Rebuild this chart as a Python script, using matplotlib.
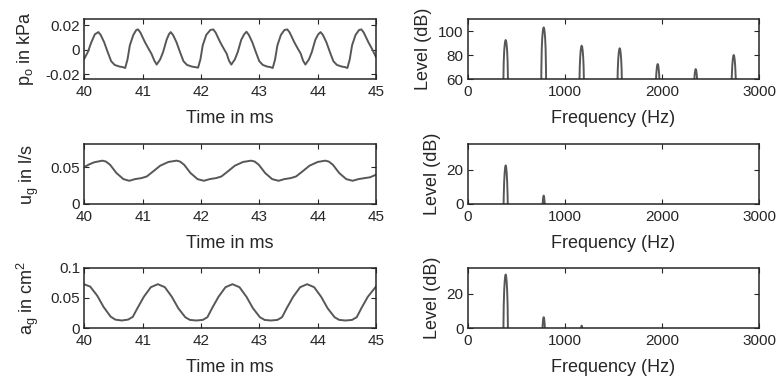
import numpy as np
import matplotlib
matplotlib.use('Agg')
import matplotlib.pyplot as plt

plt.rcParams['font.family'] = ['Liberation Sans', 'DejaVu Sans']
plt.rcParams['mathtext.fontset'] = 'custom'
plt.rcParams['mathtext.rm'] = 'Liberation Sans'
plt.rcParams['mathtext.it'] = 'Liberation Sans:italic'

# --- time signals (ms) ---
po_t = [40.00, 40.06, 40.12, 40.18, 40.24, 40.28, 40.34, 40.40, 40.46, 40.52, 40.60, 40.66, 40.70,
        40.74, 40.78, 40.84, 40.89, 40.92, 40.96, 41.04, 41.10, 41.15, 41.20, 41.24, 41.30, 41.35,
        41.41, 41.45, 41.48, 41.52, 41.58, 41.64, 41.70, 41.76, 41.84, 41.90, 41.95, 41.99, 42.03,
        42.09, 42.16, 42.21, 42.25, 42.33, 42.39, 42.44, 42.48, 42.52, 42.58, 42.63, 42.69, 42.74,
        42.78, 42.82, 42.88, 42.94, 43.00, 43.06, 43.13, 43.19, 43.23, 43.27, 43.31, 43.37, 43.43,
        43.48, 43.52, 43.60, 43.66, 43.71, 43.75, 43.79, 43.85, 43.90, 43.96, 44.01, 44.05, 44.09,
        44.15, 44.21, 44.27, 44.33, 44.41, 44.47, 44.51, 44.55, 44.59, 44.65, 44.71, 44.75, 44.79,
        44.87, 44.93, 45.00]
po_kpa = [-0.0073, -0.0020, 0.0060, 0.0125, 0.0143, 0.0120, 0.0060, -0.0020, -0.0095, -0.0125,
          -0.0138, -0.0143, -0.0150, -0.0080, 0.0035, 0.0120, 0.0160, 0.0165, 0.0140, 0.0060,
          0.0008, -0.0033, -0.0090, -0.0122, -0.0080, -0.0020, 0.0080, 0.0125, 0.0143, 0.0120,
          0.0060, -0.0020, -0.0095, -0.0125, -0.0138, -0.0143, -0.0147, -0.0080, 0.0035, 0.0120,
          0.0160, 0.0165, 0.0140, 0.0060, 0.0008, -0.0033, -0.0090, -0.0122, -0.0080, -0.0020,
          0.0080, 0.0125, 0.0146, 0.0120, 0.0060, -0.0020, -0.0095, -0.0125, -0.0138, -0.0143,
          -0.0150, -0.0080, 0.0035, 0.0120, 0.0160, 0.0165, 0.0140, 0.0060, 0.0008, -0.0033,
          -0.0090, -0.0122, -0.0080, -0.0020, 0.0080, 0.0125, 0.0143, 0.0120, 0.0060, -0.0020,
          -0.0095, -0.0125, -0.0138, -0.0143, -0.0150, -0.0080, 0.0035, 0.0120, 0.0160, 0.0165,
          0.0140, 0.0060, 0.0008, -0.0060]

ug_t = [40.00, 40.08, 40.17, 40.31, 40.37, 40.44, 40.55, 40.67, 40.77, 40.87, 40.98, 41.07, 41.18,
        41.30, 41.44, 41.58, 41.64, 41.71, 41.82, 41.94, 42.05, 42.15, 42.26, 42.35, 42.46, 42.58,
        42.72, 42.86, 42.92, 42.99, 43.10, 43.22, 43.33, 43.43, 43.54, 43.63, 43.74, 43.86, 44.00,
        44.13, 44.19, 44.26, 44.37, 44.49, 44.60, 44.70, 44.81, 44.90, 45.00]
ug_ls = [0.0505, 0.0540, 0.0570, 0.0592, 0.0580, 0.0537, 0.0423, 0.0340, 0.0317, 0.0340, 0.0354,
         0.0376, 0.0445, 0.0523, 0.0574, 0.0592, 0.0580, 0.0537, 0.0423, 0.0340, 0.0317, 0.0340,
         0.0354, 0.0376, 0.0445, 0.0523, 0.0574, 0.0592, 0.0580, 0.0537, 0.0423, 0.0340, 0.0317,
         0.0340, 0.0354, 0.0376, 0.0445, 0.0523, 0.0574, 0.0592, 0.0580, 0.0537, 0.0423, 0.0340,
         0.0317, 0.0340, 0.0354, 0.0365, 0.0400]

ag_t = [40.00, 40.10, 40.22, 40.33, 40.45, 40.53, 40.64, 40.75, 40.83, 40.91, 41.02, 41.14, 41.26,
        41.38, 41.50, 41.61, 41.73, 41.81, 41.92, 42.03, 42.11, 42.19, 42.30, 42.42, 42.54, 42.66,
        42.78, 42.89, 43.01, 43.09, 43.20, 43.31, 43.39, 43.47, 43.58, 43.70, 43.82, 43.94, 44.06,
        44.17, 44.29, 44.37, 44.48, 44.59, 44.67, 44.75, 44.86, 45.00]
ag_cm2 = [0.0727, 0.0690, 0.0540, 0.0350, 0.0190, 0.0140, 0.0125, 0.0140, 0.0185, 0.0330, 0.0520,
          0.0680, 0.0730, 0.0680, 0.0520, 0.0330, 0.0180, 0.0135, 0.0125, 0.0135, 0.0180, 0.0330,
          0.0520, 0.0680, 0.0730, 0.0680, 0.0520, 0.0330, 0.0180, 0.0135, 0.0125, 0.0135, 0.0180,
          0.0330, 0.0520, 0.0680, 0.0730, 0.0680, 0.0520, 0.0330, 0.0180, 0.0135, 0.0125, 0.0135,
          0.0180, 0.0330, 0.0520, 0.0690]

# --- spectra: harmonic peaks (Hz, dB) ---
po_peak_hz = [391, 782, 1173, 1564, 1955, 2346, 2737]
po_peak_db = [92.5, 103.0, 87.8, 85.6, 72.5, 68.3, 80.0]
ug_peak_hz = [391, 782]
ug_peak_db = [22.5, 4.9]
ag_peak_hz = [391, 782, 1173]
ag_peak_db = [31.2, 6.3, 1.4]

# shape of one spectral lobe around its peak
lobe_off_hz = [-26, -24, -20, -15, -10, -5, 0, 5, 10, 15, 20, 24, 26]
lobe_drop_db = [-60, -35, -18, -9, -4, -1, 0, -1, -4, -9, -18, -35, -60]

LINE = '#575757'
INK = '#262626'
TICK_FS = 11
LABEL_FS = 13


def spectrum_line(peak_hz, peak_db):
    f, lvl = [0.0], [-100.0]
    for pf, pl in zip(peak_hz, peak_db):
        f += [pf + o for o in lobe_off_hz]
        lvl += [pl + d for d in lobe_drop_db]
    f.append(3000.0)
    lvl.append(-100.0)
    return np.array(f), np.array(lvl)


def style_axes(ax):
    ax.tick_params(direction='in', top=True, right=True, length=3.5, width=0.8,
                   labelsize=TICK_FS, colors=INK)
    ax.tick_params(axis='x', pad=4.5)
    ax.tick_params(axis='y', pad=3)
    for s in ax.spines.values():
        s.set_linewidth(1.1)
        s.set_color(INK)


fig = plt.figure(figsize=(7.81, 3.83), dpi=100)
row_bottoms = [0.7937, 0.4674, 0.1436]
h = 0.1567
left_x, right_x, w = 0.108, 0.5988, 0.3734

time_series = [
    (po_t, po_kpa, (-0.024, 0.025), [-0.02, 0, 0.02], ['-0.02', '0', '0.02'],
     r'$\mathregular{p_o}$ in kPa'),
    (ug_t, ug_ls, (0, 0.082), [0, 0.05], ['0', '0.05'], r'$\mathregular{u_g}$ in l/s'),
    (ag_t, ag_cm2, (0, 0.1), [0, 0.05, 0.1], ['0', '0.05', '0.1'],
     r'$\mathregular{a_g}$ in cm$\mathregular{^2}$'),
]
spectra = [
    (po_peak_hz, po_peak_db, (60, 110), [60, 80, 100]),
    (ug_peak_hz, ug_peak_db, (0, 35), [0, 20]),
    (ag_peak_hz, ag_peak_db, (0, 35), [0, 20]),
]

for i, b in enumerate(row_bottoms):
    t, v, ylim, yt, ytl, ylab = time_series[i]
    ax = fig.add_axes([left_x, b, w, h])
    ax.plot(t, v, color=LINE, lw=1.4)
    ax.set_xlim(40, 45)
    ax.set_ylim(*ylim)
    ax.set_xticks([40, 41, 42, 43, 44, 45])
    ax.set_yticks(yt)
    ax.set_yticklabels(ytl)
    ax.set_xlabel('Time in ms', fontsize=LABEL_FS, color=INK, labelpad=8)
    ax.set_ylabel(ylab, fontsize=LABEL_FS, color=INK, labelpad=7)
    style_axes(ax)

    pk_hz, pk_db, sylim, syt = spectra[i]
    f, lvl = spectrum_line(pk_hz, pk_db)
    ax2 = fig.add_axes([right_x, b, w, h])
    ax2.plot(f, lvl, color=LINE, lw=1.4)
    ax2.set_xlim(0, 3000)
    ax2.set_ylim(*sylim)
    ax2.set_xticks([0, 1000, 2000, 3000])
    ax2.set_yticks(syt)
    ax2.set_xlabel('Frequency (Hz)', fontsize=LABEL_FS, color=INK, labelpad=8)
    ax2.set_ylabel('Level (dB)', fontsize=LABEL_FS, color=INK, labelpad=4)
    style_axes(ax2)

fig.savefig('out.png', dpi=100)
